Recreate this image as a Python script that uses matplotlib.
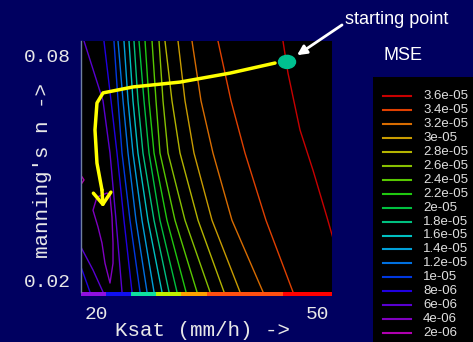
import matplotlib
matplotlib.use("Agg")
import matplotlib.pyplot as plt
import matplotlib.transforms as mtransforms
from matplotlib.lines import Line2D
from matplotlib.patches import Ellipse, Rectangle

plt.rcParams["font.family"] = ["Liberation Mono", "DejaVu Sans Mono"]

BG = "#000060"
TXT = "#e8e8e8"

# MSE contour levels, highest first (legend order)
levels = [3.6e-05, 3.4e-05, 3.2e-05, 3.0e-05, 2.8e-05, 2.6e-05, 2.4e-05, 2.2e-05, 2.0e-05,
          1.8e-05, 1.6e-05, 1.4e-05, 1.2e-05, 1.0e-05, 8e-06, 6e-06, 4e-06, 2e-06]
level_colors = ["#c80000", "#e04000", "#d86c00", "#c89c00", "#b4b400", "#88c000", "#58c800",
                "#20c810", "#00c040", "#00c080", "#00c0c0", "#00a0d8", "#0070e0", "#0038e0",
                "#2000e0", "#5800d0", "#8000c0", "#b000b0"]
color_of = dict(zip(levels, level_colors))

# Ksat where each contour crosses these values of manning's n
n_rows = [0.084, 0.068, 0.054, 0.036, 0.0168]
contour_ksat = {
    3.4e-05: [36.51, 38.28, 40.18, 43.03, 46.70],
    3.2e-05: [32.98, 34.20, 35.83, 38.41, 42.63],
    3.0e-05: [31.08, 32.03, 33.25, 35.70, 39.50],
    2.8e-05: [29.31, 30.26, 31.35, 33.80, 37.33],
    2.6e-05: [28.50, 29.04, 29.72, 32.03, 35.43],
    2.4e-05: [27.55, 28.09, 28.63, 30.67, 33.66],
    2.2e-05: [26.60, 27.14, 27.82, 29.58, 32.17],
    2.0e-05: [25.78, 26.46, 27.14, 28.63, 30.94],
    1.8e-05: [25.10, 25.64, 26.32, 27.82, 29.86],
    1.6e-05: [24.42, 24.96, 25.64, 27.00, 28.90],
    1.4e-05: [23.74, 24.29, 24.96, 26.19, 27.82],
    1.2e-05: [22.93, 23.61, 24.29, 25.37, 26.87],
    1.0e-05: [22.38, 22.93, 23.47, 24.56, 25.92],
    8e-06: [21.02, 21.98, 22.79, 23.74, 24.83],
    6e-06: [18.31, 20.89, 21.84, 22.66, 23.47],
}

# highest contour leaves the plot on the right side
red_n = [0.0840, 0.0754, 0.0602, 0.0494, 0.0368, 0.0293]
red_ksat = [45.34, 46.02, 47.65, 49.42, 51.32, 52.41]

# closed 4e-06 contour (the minimum valley)
loop_ksat = [20.07, 21.43, 21.84, 22.11, 22.25, 22.25, 21.84, 21.16, 20.75, 20.21, 19.53, 20.07]
loop_n = [0.0422, 0.0433, 0.0427, 0.0368, 0.0299, 0.0245, 0.0192, 0.0245, 0.0299, 0.0342, 0.0387, 0.0422]

# small pieces in the lower left corner and on the left edge
corner6_ksat, corner6_n = [17.90, 19.53, 20.89], [0.0288, 0.0227, 0.0168]
corner8_ksat, corner8_n = [17.90, 19.12], [0.0235, 0.0168]
tiny2_ksat, tiny2_n = [18.04, 18.31, 18.04], [0.0476, 0.0468, 0.0460]

# search path from the starting point
path_ksat = [44.26, 38.14, 31.35, 24.96, 20.89, 20.07, 19.80, 20.07, 20.75]
path_n = [0.0781, 0.0754, 0.0730, 0.0717, 0.0701, 0.0674, 0.0602, 0.0513, 0.0441]
path_tip = (20.89, 0.0395)
start_point = (45.89, 0.0784)

# coloured strip under the x axis
strip_edges = [17.9, 21.3, 24.7, 28.1, 31.5, 35.0, 45.4, 52.0]
strip_colors = ["#9010e0", "#1010f0", "#10e0a0", "#c0f000", "#ffa000", "#ff5010", "#ff0000"]

fig = plt.figure(figsize=(4.73, 3.42), dpi=100, facecolor=BG)
ax = fig.add_axes([81 / 473, 50 / 342, 251 / 473, 251 / 342])
ax.set_facecolor("black")
ax.set_xlim(17.9, 52.0)
ax.set_ylim(0.0168, 0.084)

for lev, ks in contour_ksat.items():
    ax.plot(ks, n_rows, color=color_of[lev], lw=1.0)
ax.plot(red_ksat, red_n, color=color_of[3.6e-05], lw=1.0)
ax.plot(loop_ksat, loop_n, color=color_of[4e-06], lw=1.0)
ax.plot(corner6_ksat, corner6_n, color=color_of[6e-06], lw=1.0)
ax.plot(corner8_ksat, corner8_n, color=color_of[8e-06], lw=1.0)
ax.plot(tiny2_ksat, tiny2_n, color=color_of[2e-06], lw=1.0)

# yellow path + arrow head
ax.plot(path_ksat, path_n, color="#ffff00", lw=2.5, solid_capstyle="round", solid_joinstyle="round")
ax.annotate("", xy=path_tip, xytext=(path_ksat[-1], path_n[-1]),
            arrowprops=dict(arrowstyle="->,head_length=0.6,head_width=0.45", color="#ffff00",
                            lw=2.5, mutation_scale=14, shrinkA=0, shrinkB=0))

ax.add_patch(Ellipse(start_point, 2.31, 0.0035, color="#00c090", zorder=5))

ax.annotate("", xy=(47.25, 0.0802), xytext=(53.36, 0.0883),
            arrowprops=dict(arrowstyle="-|>", color="white", lw=2, mutation_scale=14,
                            shrinkA=0, shrinkB=0),
            annotation_clip=False)

trans = mtransforms.blended_transform_factory(ax.transData, ax.transAxes)
for i, c in enumerate(strip_colors):
    ax.add_patch(Rectangle((strip_edges[i], -0.016), strip_edges[i + 1] - strip_edges[i], 0.016,
                           transform=trans, color=c, clip_on=False, lw=0))

ax.set_xticks([20, 50])
ax.set_xticklabels(["20", "50"])
ax.set_yticks([0.02, 0.08])
ax.set_yticklabels(["0.02", "0.08"])
ax.tick_params(axis="x", length=0, colors=TXT, labelsize=14, pad=10)
ax.tick_params(axis="y", length=0, colors=TXT, labelsize=14, pad=7)
for side in ["top", "right", "bottom"]:
    ax.spines[side].set_visible(False)
ax.spines["left"].set_color("#7080a0")
ax.spines["left"].set_linewidth(1.0)

fig.text(202 / 473, 1 - 331 / 342, "Ksat (mm/h) ->", color=TXT, fontsize=15, ha="center", va="center")
fig.text(43 / 473, 1 - 171 / 342, "manning's n ->", color=TXT, fontsize=15, rotation=90,
         ha="center", va="center")

fig.text(397 / 473, 1 - 20 / 342, "starting point", color="white", fontsize=13,
         family="Liberation Sans", ha="center", va="center")
fig.text(403 / 473, 1 - 56 / 342, "MSE", color="white", fontsize=13,
         family="Liberation Sans", ha="center", va="center")

# legend box
fig.patches.append(Rectangle((373 / 473, 0), 100 / 473, 265 / 342, transform=fig.transFigure,
                             facecolor="black", edgecolor="none", zorder=0))
for i, (lev, c) in enumerate(zip(levels, level_colors)):
    y = 1 - (95.7 + i * 13.98) / 342
    fig.add_artist(Line2D([383 / 473, 411 / 473], [y, y], color=c, lw=1.5, transform=fig.transFigure))
    fig.text(423 / 473, y, f"{lev:g}", color="#e0e0e0", fontsize=9.5, family="Liberation Sans",
             ha="left", va="center")

fig.savefig("out.png", dpi=100, facecolor=BG)
